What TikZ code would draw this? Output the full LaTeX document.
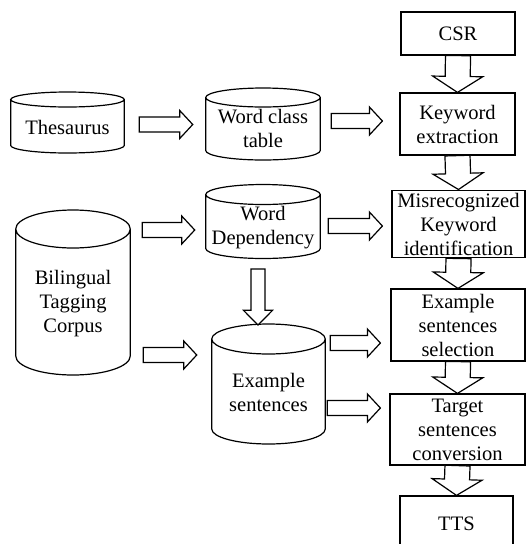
\documentclass[tikz,border=0pt]{standalone}
\usepackage{fontspec}
\setmainfont{Liberation Serif}
\usetikzlibrary{calc}

\tikzset{
  outline/.style={line width=0.9pt},
  procbox/.style={draw, line width=0.9pt, align=center, inner sep=2pt},
  dbtext/.style={align=center, inner sep=0pt, minimum width=#1},
  fat/.style={draw, line width=0.9pt, fill=white, line join=miter},
}

% block arrow: start, end, shaft half width, head half width, head length
\newcommand\fatarrow[5]{%
  \coordinate (fa-s) at #1;
  \coordinate (fa-e) at #2;
  \coordinate (fa-h) at ($(fa-e)!#5!(fa-s)$);
  \draw[fat] ($(fa-s)!#3!90:(fa-e)$) -- ($(fa-h)!#3!-90:(fa-s)$) -- ($(fa-h)!#4!-90:(fa-s)$)
    -- (fa-e) -- ($(fa-h)!#4!90:(fa-s)$) -- ($(fa-h)!#3!90:(fa-s)$) -- ($(fa-s)!#3!-90:(fa-e)$) -- cycle;}

% database drum round a text node: name, end radius, axis above / below centre (px)
\newcommand\dbase[4]{%
  \draw[outline] let \p1=($(#1.east)-(#1.west)$) in
    ($(#1.west)+(0,-#3)$) -- ($(#1.west)+(0,#4)$)
    arc[start angle=180, end angle=360, x radius={0.5*\x1}, y radius={#2*0.75pt}]
    -- ($(#1.east)+(0,-#3)$)
    arc[start angle=0, end angle=360, x radius={0.5*\x1}, y radius={#2*0.75pt}];}

\begin{document}
\begin{tikzpicture}[x=0.75pt,y=-0.75pt,font=\fontsize{15.4pt}{18pt}\selectfont]
\useasboundingbox (0,0) rectangle (526,544);

% processing chain
\node[procbox, minimum width=85.5pt, minimum height=32.25pt] (csr) at (458,33.5) {CSR};
\node[procbox, minimum width=86.25pt, minimum height=46.5pt] (kw) at (457.5,124) {Keyword\\extraction};
\node[procbox, minimum width=99.75pt, minimum height=49.5pt] (mis) at (458.5,224) {Misrecognized\\Keyword\\identification};
\node[procbox, minimum width=100.5pt, minimum height=54pt] (sel) at (458,325) {Example\\sentences\\selection};
\node[procbox, minimum width=101.25pt, minimum height=53.25pt] (tgt) at (457.5,429.5) {Target\\sentences\\conversion};
\node[procbox, minimum width=84.75pt, minimum height=42pt] (tts) at (456.5,524) {TTS};

% resources
\node[dbtext=84.75pt] (thes) at (67.5,127) {Thesaurus};
\node[dbtext=85.5pt] (wct) at (263,128) {Word class\\table};
\node[dbtext=85.5pt] (wdep) at (263,227.5) {Word\\Dependency};
\node[dbtext=85.5pt] (bil) at (73,304) {Bilingual\\Tagging\\Corpus};
\node[dbtext=84.75pt] (ex) at (268.5,392.5) {Example\\sentences};
\dbase{thes}{7.5}{27.5}{18.5}
\dbase{wct}{9.5}{30.5}{22.5}
\dbase{wdep}{10}{33}{21}
\dbase{bil}{19}{75}{52}
\dbase{ex}{15}{53.5}{36.5}

% flow
\fatarrow{(csr.south)}{(kw.north)}{9.4pt}{18.75pt}{12pt}
\fatarrow{(kw.south)}{(mis.north)}{9.4pt}{18.75pt}{12pt}
\fatarrow{(mis.south)}{(sel.north)}{9.4pt}{18.75pt}{12pt}
\fatarrow{(sel.south)}{(tgt.north)}{9.4pt}{18.75pt}{12pt}
\fatarrow{(tgt.south)}{(tts.north)}{9.4pt}{18.75pt}{12pt}
\fatarrow{($(thes.east)+(15,-2.5)$)}{($(wct.west)+(-13,-3.5)$)}{5.6pt}{10.5pt}{9.75pt}
\fatarrow{($(wct.east)+(11,-7)$)}{($(kw.west)+(-17,-3)$)}{5.6pt}{10.5pt}{9.75pt}
\fatarrow{($(bil.east |- wdep)+(12,2.5)$)}{($(wdep.west)+(-11,2.5)$)}{5.6pt}{10.5pt}{9.75pt}
\fatarrow{($(wdep.east)+(8,-1.5)$)}{($(mis.west)+(-9,2)$)}{5.6pt}{10.5pt}{9.75pt}
\fatarrow{($(wdep)+(-5,41.5)$)}{($(ex)+(-10.5,-67.5)$)}{5.25pt}{10.9pt}{11pt}
\fatarrow{($(bil.east |- ex)+(13,-37.5)$)}{($(ex.west)+(-15,-37.5)$)}{5.6pt}{10.5pt}{9.75pt}
\fatarrow{($(ex.east)+(5,-49.5)$)}{($(sel.west)+(-10,18)$)}{5.6pt}{10.5pt}{9.75pt}
\fatarrow{($(ex.east)+(2,15.5)$)}{($(tgt.west)+(-9,-21.5)$)}{5.6pt}{10.5pt}{9.75pt}
\end{tikzpicture}
\end{document}
